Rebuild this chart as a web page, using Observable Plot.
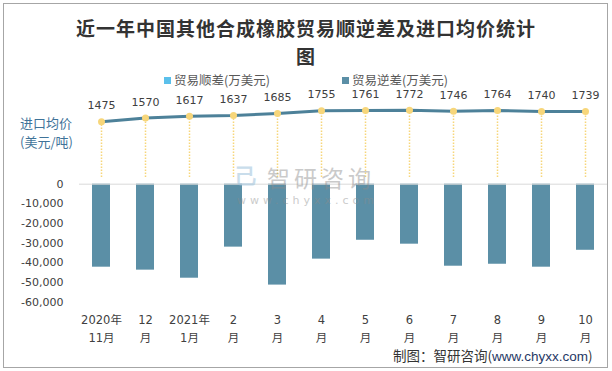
<!DOCTYPE html>
<html><head><meta charset="utf-8">
<script src="https://cdn.jsdelivr.net/npm/d3@7"></script>
<script src="https://cdn.jsdelivr.net/npm/@observablehq/plot@0.6"></script>
<style>
html,body{margin:0;padding:0;background:#fff;}
#wrap{position:relative;width:612px;height:371px;overflow:hidden;font-family:"DejaVu Sans","Noto Sans CJK SC",sans-serif;}
#wrap svg{position:absolute;left:0;top:0;}
.abs{position:absolute;white-space:nowrap;}
</style></head>
<body>
<div id="wrap">
  <div class="abs" style="left:3px;top:3px;width:603px;height:363px;border:1px solid #a6a6a6;"></div>
  <div class="abs" style="left:0;width:612px;top:14px;text-align:center;font:bold 19px/28px 'Noto Sans CJK SC',sans-serif;letter-spacing:1px;color:#333;">近一年中国其他合成橡胶贸易顺逆差及进口均价统计<br>图</div>
  <div class="abs" id="legend" style="left:0;width:612px;top:72px;text-align:center;font:12.5px/16px 'Noto Sans CJK SC',sans-serif;color:#595959;"></div>
  <div class="abs" style="left:20px;top:113px;font:13px/19px 'Noto Sans CJK SC',sans-serif;color:#3f7399;">进口均价<br>(美元/吨)</div>
  <div class="abs" style="left:393px;top:346px;font:13.5px/18px 'Noto Sans CJK SC',sans-serif;color:#333;">制图：智研咨询(<span style="color:#1f3864;font-family:'Liberation Sans',sans-serif;">www.chyxx.com</span>)</div>
</div>
<script>
const months = ["2020年\n11月","12\n月","2021年\n1月","2\n月","3\n月","4\n月","5\n月","6\n月","7\n月","8\n月","9\n月","10\n月"];
const deficit = [-42200,-43700,-47800,-32000,-51300,-38100,-28500,-30500,-41700,-40700,-42200,-33600];
const price = [1475,1570,1617,1637,1685,1755,1761,1772,1746,1764,1740,1739];
const yTicks = [0,-10000,-20000,-30000,-40000,-50000,-60000];
const seriesNames = ["贸易顺差(万美元)","贸易逆差(万美元)"];
const seriesColors = ["#5bc0eb","#5b8fa6"];

const barData = months.map((m,i)=>({m, v:deficit[i]}));
const lineData = months.map((m,i)=>({m, p:price[i]}));

const W = 612, H = 371;
const xOpts = {domain: months, paddingInner: 0.59, paddingOuter: 0.295};

const bars = Plot.plot({
  width: W, height: H,
  marginLeft: 79, marginRight: 5, marginTop: 183.7, marginBottom: 69.3,
  style: {background: "transparent", fontFamily: "DejaVu Sans, Noto Sans CJK SC, sans-serif"},
  x: {...xOpts, axis: null, label: null},
  y: {domain: [-60000, 0], axis: null, label: null},
  marks: [
    Plot.barY(barData, {x: "m", y1: 0, y2: "v", fill: seriesColors[1]}),
    Plot.ruleY([0], {stroke: "#d9d9d9", strokeWidth: 1}),
    Plot.axisY(yTicks, {tickSize: 0, tickPadding: 16, fontSize: 11, fill: "#404040", label: null, tickFormat: d => d.toLocaleString("en-US")}),
    Plot.text(months, {x: d => d, frameAnchor: "bottom", lineAnchor: "top", dy: 10, fontSize: 11.5, lineHeight: 1.5, fill: "#404040", text: d => d})
  ]
});

const line = Plot.plot({
  width: W, height: H,
  marginLeft: 79, marginRight: 5, marginTop: 100.7, marginBottom: 191.7,
  style: {background: "transparent", fontFamily: "DejaVu Sans, Noto Sans CJK SC, sans-serif"},
  x: {...xOpts, axis: null, label: null},
  y: {domain: [0, 2000], axis: null, label: null},
  marks: [
    Plot.ruleX(lineData, {x: "m", y1: 60, y2: "p", stroke: "#f7d67a", strokeWidth: 1.5, strokeDasharray: "1.5,1.5"}),
    Plot.line(lineData, {x: "m", y: "p", stroke: "#4d8199", strokeWidth: 3}),
    Plot.dot(lineData, {x: "m", y: "p", r: 3.5, fill: "#f7d67a", stroke: "none"}),
    Plot.text(lineData, {x: "m", y: "p", text: d => String(d.p), dy: -16, fontSize: 11, fill: "#404040"})
  ]
});

const wrap = document.getElementById("wrap");
wrap.appendChild(bars);
wrap.appendChild(line);

// watermark
const wm = document.createElement("div");
wm.className = "abs";
wm.style.cssText = "left:237px;top:160px;color:#8c8c8c;opacity:0.45;";
wm.innerHTML = "<div style=\"font:23px/34px 'Noto Sans CJK SC',sans-serif;letter-spacing:4px;padding-left:30px;\">智研咨询</div><div style=\"font:11px/13px 'DejaVu Sans',sans-serif;letter-spacing:4px;\">www.chyxx.com</div>";
wrap.appendChild(wm);
const logo = document.createElement("div");
logo.className = "abs";
logo.style.cssText = "left:236px;top:167px;width:24px;height:20px;font:bold 22px/20px 'DejaVu Sans',sans-serif;color:#9ec3dc;opacity:0.55;";
logo.textContent = "己";
wrap.appendChild(logo);

// legend
const lg = document.getElementById("legend");
lg.innerHTML = seriesNames.map((n,i)=>`<span style="display:inline-block;margin:0 36px;"><span style="display:inline-block;width:7px;height:7px;background:${seriesColors[i]};margin-right:3px;vertical-align:1px;"></span>${n}</span>`).join("");
</script>
</body></html>
